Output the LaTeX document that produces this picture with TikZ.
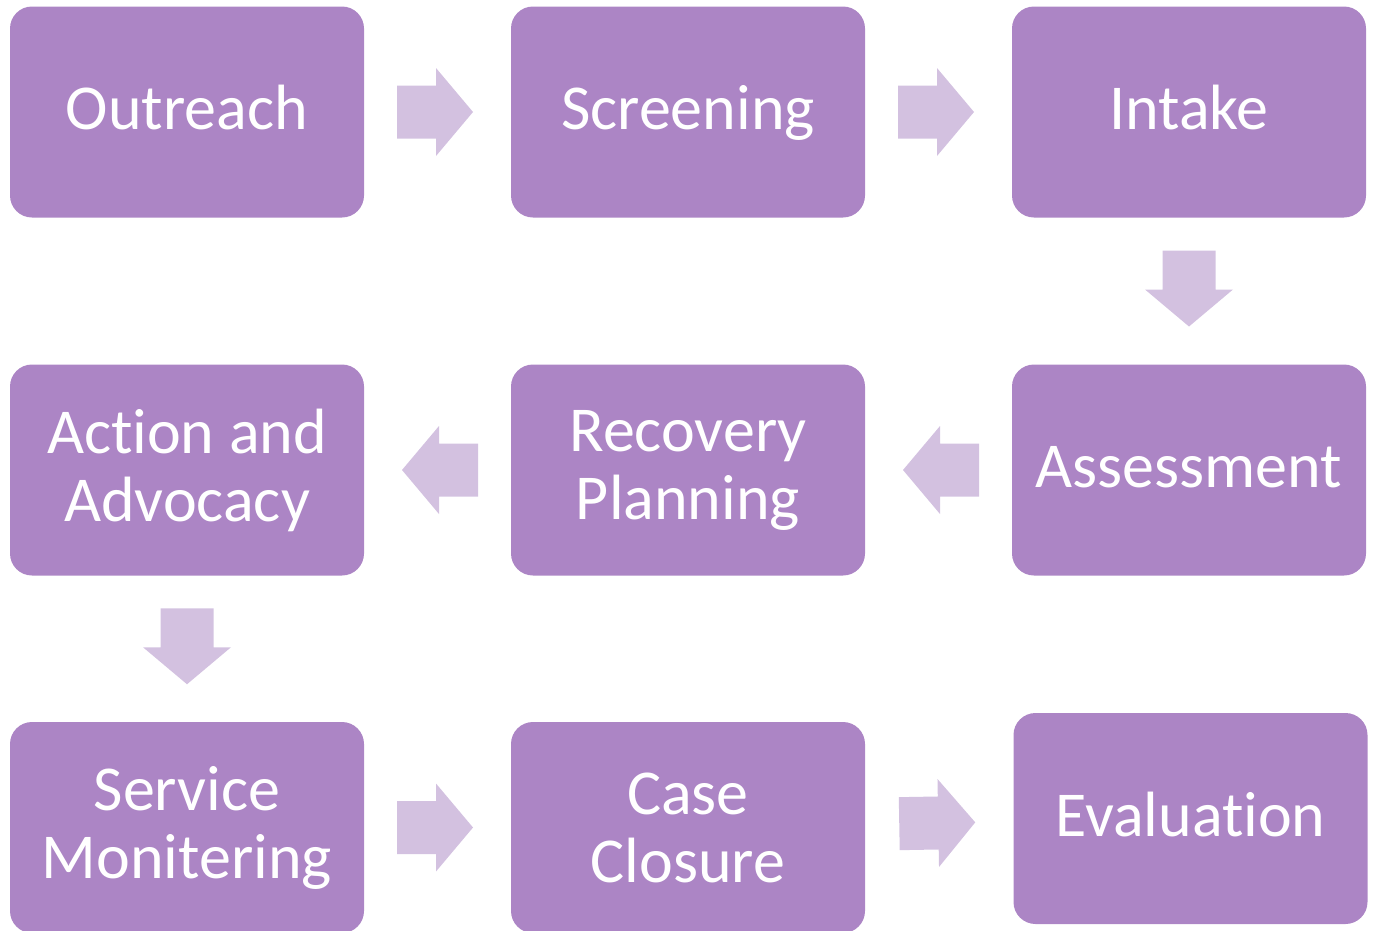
\documentclass[tikz,border=0pt]{standalone}
\usepackage{fontspec}
\setmainfont{Carlito}[Ligatures=NoCommon, RawFeature={-liga;-dlig;-clig}]
\usetikzlibrary{calc}
\definecolor{boxpurple}{HTML}{AC85C5}
\definecolor{arrowlilac}{HTML}{D3C1E0}
\tikzset{
  stepbox/.style={fill=boxpurple, draw=none, rounded corners=22pt, minimum width=354pt, minimum height=211pt, inner sep=0pt, text=white, align=center, font=\fontsize{64}{68}\selectfont},
  onebox/.style={stepbox, text height=48pt, text depth=13pt},
  blockarrow/.pic={\fill[arrowlilac] (-38,-26.5) -- (1,-26.5) -- (1,-44) -- (38,0) -- (1,44) -- (1,26.5) -- (-38,26.5) -- cycle;}
}
\begin{document}
\begin{tikzpicture}[x=1pt,y=-1pt]
\useasboundingbox (0,0) rectangle (1377,930);
\clip (0,0) rectangle (1377,930);
\node[onebox] (out) at (187,112) {Outreach};
\node[onebox] (scr) at (688,112) {Screening};
\node[onebox] (int) at (1189,112) {Intake};
\node[onebox] (ass) at (1189,470) {Assessment};
\node[stepbox] (rec) at (688,470) {Recovery\\Planning};
\node[stepbox] (act) at (187,470) {Action and\\Advocacy};
\node[stepbox] (ser) at (187,827.5) {Service\\Monitering};
\node[stepbox] (cas) at (688,827.5) {Case\\Closure};
\node[onebox] (eva) at (1190.5,818.5) {Evaluation};
\pic at ($(out.east)!0.5!(scr.west)+(-2.5,0)$) {blockarrow};
\pic at ($(scr.east)!0.5!(int.west)+(-2.5,0)$) {blockarrow};
\pic[rotate=-90] at ($(int.south)!0.5!(ass.north)+(0,-2.5)$) {blockarrow};
\pic[rotate=180] at ($(ass.west)!0.5!(rec.east)+(2.5,0)$) {blockarrow};
\pic[rotate=180] at ($(rec.west)!0.5!(act.east)+(2.5,0)$) {blockarrow};
\pic[rotate=-90] at ($(act.south)!0.5!(ser.north)+(0,-2.5)$) {blockarrow};
\pic at ($(ser.east)!0.5!(cas.west)+(-2.5,0)$) {blockarrow};
\pic[rotate=1] at ($(cas.east)!0.5!(eva.west)+(-2,0)$) {blockarrow};
\end{tikzpicture}
\end{document}
